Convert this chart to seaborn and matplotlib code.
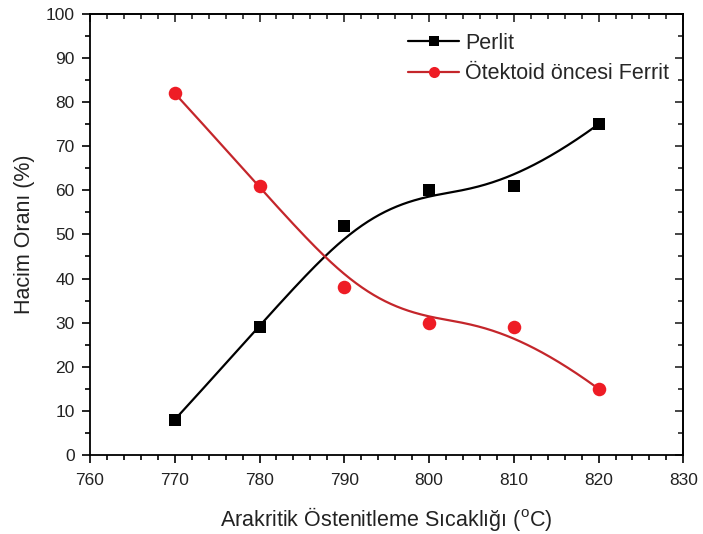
import numpy as np
import pandas as pd
import seaborn as sns
import matplotlib
matplotlib.use("Agg")
import matplotlib.pyplot as plt
from matplotlib.lines import Line2D
from matplotlib.ticker import MultipleLocator

temps = [770, 780, 790, 800, 810, 820]
perlit = [8, 29, 52, 60, 61, 75]
ferrit = [82, 61, 38, 30, 29, 15]
series_names = ["Perlit", "Ötektoid öncesi Ferrit"]

sns.set_theme(style="ticks")
plt.rcParams['font.family'] = ['Liberation Sans', 'DejaVu Sans']
plt.rcParams['mathtext.fontset'] = 'custom'
plt.rcParams['mathtext.rm'] = 'Liberation Sans'


def bspline(xs, ys, n=300):
    # clamped cubic B-spline using the data points as control points (Origin style)
    P = np.column_stack([xs, ys]).astype(float)
    m = len(P)
    k = 3
    knots = np.concatenate([[0] * k, np.arange(m - k + 1), [m - k] * k]).astype(float)
    ts = np.linspace(0, m - k, n)

    def basis(i, p, t):
        if p == 0:
            if knots[i] <= t < knots[i + 1]:
                return 1.0
            if t == knots[-1] and knots[i] < t <= knots[i + 1]:
                return 1.0
            return 0.0
        a = 0.0
        if knots[i + p] != knots[i]:
            a = (t - knots[i]) / (knots[i + p] - knots[i]) * basis(i, p - 1, t)
        b = 0.0
        if knots[i + p + 1] != knots[i + 1]:
            b = (knots[i + p + 1] - t) / (knots[i + p + 1] - knots[i + 1]) * basis(i + 1, p - 1, t)
        return a + b

    out = np.array([sum(basis(i, k, t) * P[i] for i in range(m)) for t in ts])
    return out[:, 0], out[:, 1]


fig, ax = plt.subplots(figsize=(7.03, 5.34), dpi=100)
fig.subplots_adjust(left=0.128, right=0.972, top=0.974, bottom=0.148)

px, py = bspline(temps, perlit)
fx, fy = bspline(temps, ferrit)
curve_p = pd.DataFrame({"x": px, "y": py})
curve_f = pd.DataFrame({"x": fx, "y": fy})

sns.lineplot(data=curve_p, x="x", y="y", color="black", lw=1.6, sort=False, ax=ax)
sns.lineplot(data=curve_f, x="x", y="y", color="#c4262b", lw=1.6, sort=False, ax=ax)
sns.scatterplot(x=temps, y=perlit, marker="s", s=70, color="black", edgecolor="black", linewidth=0, ax=ax, zorder=3)
sns.scatterplot(x=temps, y=ferrit, marker="o", s=95, color="#ee1c25", edgecolor="#ee1c25", linewidth=0, ax=ax, zorder=3)

ax.set_xlim(760, 830)
ax.set_ylim(0, 100)
ax.xaxis.set_major_locator(MultipleLocator(10))
ax.xaxis.set_minor_locator(MultipleLocator(2))
ax.yaxis.set_major_locator(MultipleLocator(10))
ax.yaxis.set_minor_locator(MultipleLocator(5))

for s in ax.spines.values():
    s.set_linewidth(1.3)
    s.set_color("black")
ax.tick_params(which="both", direction="out", top=False, right=False,
               width=1.2, color="black", labelsize=12.5, labelcolor="#222222")
ax.tick_params(which="major", length=6)
ax.tick_params(which="minor", length=3.5)
ax.tick_params(axis="x", which="major", pad=7)
ax.tick_params(axis="y", which="major", pad=5)

# mirrored ticks pointing inward on top/right
secx = ax.secondary_xaxis("top")
secx.xaxis.set_major_locator(MultipleLocator(10))
secx.xaxis.set_minor_locator(MultipleLocator(2))
secx.tick_params(which="both", direction="in", labeltop=False, width=1.2)
secx.tick_params(which="major", length=6)
secx.tick_params(which="minor", length=3.5)
secy = ax.secondary_yaxis("right")
secy.yaxis.set_major_locator(MultipleLocator(10))
secy.yaxis.set_minor_locator(MultipleLocator(5))
secy.tick_params(which="both", direction="in", labelright=False, width=1.2)
secy.tick_params(which="major", length=6)
secy.tick_params(which="minor", length=3.5)

ax.set_xlabel("Arakritik Östenitleme Sıcaklığı ($^\\mathrm{o}$C)", fontsize=15.5, labelpad=12, color="#222222")
ax.set_ylabel("Hacim Oranı (%)", fontsize=15.5, labelpad=8, color="#222222")

handles = [
    Line2D([], [], color="black", lw=1.6, marker="s", markersize=7, markeredgewidth=0),
    Line2D([], [], color="#c4262b", lw=1.6, marker="o", markersize=8, markerfacecolor="#ee1c25", markeredgewidth=0),
]
ax.legend(handles, series_names, loc="upper left", bbox_to_anchor=(0.521, 0.977), frameon=False,
          fontsize=15.5, handlelength=2.4, handletextpad=0.25, labelspacing=0.45, borderaxespad=0)

fig.savefig("out.png", dpi=100)
